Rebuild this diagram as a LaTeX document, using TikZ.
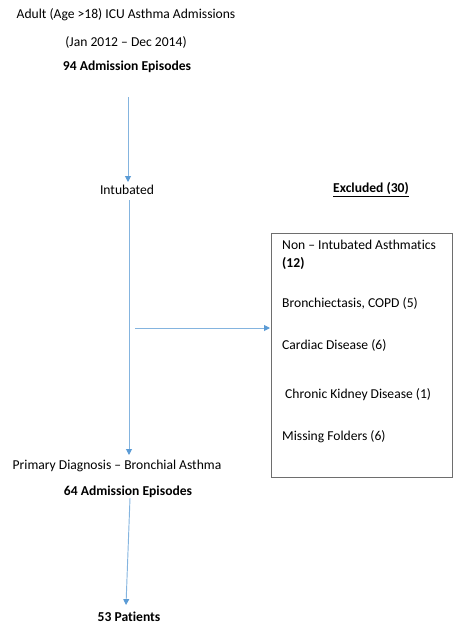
\documentclass[tikz,border=0pt]{standalone}
\usepackage{fontspec}
\setmainfont{Carlito}[Ligatures=NoCommon]
\usepackage{tikz}
\usetikzlibrary{arrows.meta}
\definecolor{flowblue}{RGB}{91,155,213}
\definecolor{boxgray}{RGB}{110,110,110}
\tikzset{
    every node/.style={inner sep=0pt, font=\fontsize{11.6pt}{13pt}\selectfont}
}
\tikzset{
    hd/.style={font=\fontsize{11.6pt}{13pt}\selectfont\bfseries}
}
\tikzset{
    itm/.style={anchor=west}
}
\tikzset{
    every edge/.append style={draw=flowblue!75, line width=0.8pt,
    	-{Triangle[length=5pt,width=5pt,fill=flowblue,color=flowblue]}}
}

\begin{document}
\begin{tikzpicture}
	\useasboundingbox (0,0) rectangle (13.62,-18.78);
	\node (t1) at (3.78,-0.45) {Adult (Age >18) ICU Asthma Admissions};
	\node (t2) at (3.78,-1.26) {(Jan 2012 -- Dec 2014)};
	\node [hd] (t3) at (3.81,-2.01) {94 Admission Episodes};
	\coordinate (a1) at (3.84,-2.91);
	\coordinate (a2) at (3.84,-5.46);
	\node (int) at (3.81,-5.70) {Intubated};
	\coordinate (b1) at (3.87,-6.00);
	\coordinate (b2) at (3.87,-13.65);
	\coordinate (c1) at (4.05,-9.84);
	\node [hd] (exc) at (11.13,-5.70) {\underline{Excluded (30)}};
	\draw [boxgray, line width=0.6pt] (8.13,-6.99) rectangle (13.58,-14.31);
	\coordinate (c2) at (8.10,-9.84);
	\node [itm] (e1) at (8.46,-7.35) {Non -- Intubated Asthmatics};
	\node [itm, hd] (e1b) at (8.46,-7.89) {(12)};
	\node [itm] (e2) at (8.46,-9.09) {Bronchiectasis, COPD (5)};
	\node [itm] (e3) at (8.46,-10.35) {Cardiac Disease (6)};
	\node [itm] (e4) at (8.55,-11.85) {Chronic Kidney Disease (1)};
	\node [itm] (e5) at (8.46,-13.11) {Missing Folders (6)};
	\node (prim) at (3.51,-13.98) {Primary Diagnosis -- Bronchial Asthma};
	\node [hd] (sixty) at (3.84,-14.76) {64 Admission Episodes};
	\coordinate (d1) at (3.90,-14.94);
	\coordinate (d2) at (3.78,-18.15);
	\node [hd] (pts) at (3.87,-18.51) {53 Patients};
	\draw (a1) edge (a2); \draw (b1) edge (b2);
	\draw (c1) edge (c2); \draw (d1) edge (d2);
\end{tikzpicture}
\end{document}
